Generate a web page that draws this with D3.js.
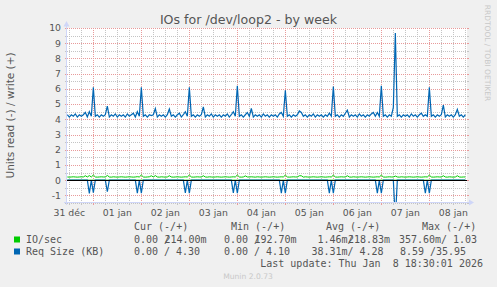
<!DOCTYPE html>
<html>
<head>
<meta charset="utf-8">
<script src="https://cdn.jsdelivr.net/npm/d3@7"></script>
<style>
  body { margin: 0; background: #f0f0f0; }
  svg { display: block; }
  text { font-family: "DejaVu Sans", sans-serif; }
  .mono { font-family: "DejaVu Sans Mono", monospace; white-space: pre; }
</style>
</head>
<body>
<div id="chart"></div>
<script>
// hourly samples, first one at 31 déc 11:00
const firstSample = Date.UTC(2025, 11, 31, 11);

// Req Size (KB), write (+)
const reqWrite = [].concat(
  [4.30,4.15,4.30,4.20,4.35,4.15,4.30,4.20,4.30,4.45,4.15,4.50,4.20],
  [6.10,4.20,4.30,4.15,4.30,4.20,4.30,4.87,4.15,4.30,4.20,4.35,4.15,4.30,4.20,4.30,4.15,4.35,4.20,4.30,4.40,4.15,4.50,4.20],
  [6.10,4.20,4.30,4.15,4.30,4.25,4.30,4.71,4.15,4.30,4.20,4.30,4.15,4.30,4.67,4.20,4.30,4.15,4.30,4.40,4.15,4.30,4.50,4.20],
  [6.10,4.20,4.30,4.15,4.30,4.20,4.30,4.82,4.15,4.30,4.20,4.35,4.15,4.30,4.20,4.30,4.15,4.30,4.20,4.35,4.15,4.30,4.50,4.20],
  [6.20,4.20,4.30,4.15,4.30,4.45,4.20,4.71,4.15,4.30,4.20,4.30,4.15,4.35,4.20,4.30,4.15,4.30,4.20,4.30,4.15,4.35,4.45,4.20],
  [5.90,4.20,4.30,4.15,4.30,4.20,4.30,4.55,4.45,4.20,4.30,4.15,4.30,4.20,4.35,4.15,4.30,4.20,4.30,4.15,4.30,4.20,4.40,4.20],
  [6.15,4.20,4.30,4.15,4.30,4.20,4.40,4.60,4.15,4.30,4.20,4.30,4.15,4.35,4.20,4.30,4.15,4.30,4.20,4.35,4.45,4.20,4.45,4.20],
  [6.20,4.20,4.30,4.15,4.30,4.20,4.78,9.67,4.20,4.30,4.15,4.30,4.20,4.30,4.15,4.35,4.20,4.30,4.15,4.30,4.40,4.20,4.30,4.20],
  [6.10,4.20,4.30,4.15,4.30,4.20,4.30,4.93,4.15,4.30,4.20,4.30,4.15,4.30,4.65,4.20,4.30,4.15,4.30]
);

// Req Size (KB), read (-)
const reqRead = [].concat(
  [0,0,0,0,0,0,0,0,0,0,0,0.87,0],
  [0.82,0,0,0,0,0,0,0.76,0,0,0,0,0,0,0,0,0,0,0,0,0,0,0.85,0],
  [0.85,0,0,0,0,0,0,0,0,0,0,0,0,0,0,0,0,0,0,0,0,0,0.83,0],
  [0.85,0,0,0,0,0,0,0,0,0,0,0,0,0,0,0,0,0,0,0,0,0,0.84,0],
  [0.86,0,0,0,0,0,0,0,0,0,0,0,0,0,0,0,0,0,0,0,0,0,0.86,0],
  [0.86,0,0,0,0,0,0,0,0,0,0,0,0,0,0,0,0,0,0,0,0,0,0.85,0],
  [0.86,0,0,0,0,0,0,0,0,0,0,0,0,0,0,0,0,0,0,0,0,0,0.85,0],
  [0.86,0,0,0,0,0,0,2.60,0,0,0,0,0,0,0,0,0,0,0,0,0,0,0.86,0],
  [0.86,0,0,0,0,0,0,0,0,0,0,0,0,0,0,0,0,0,0]
);

// IO/sec, write (+)
const ioWrite = [].concat(
  [0.21,0.20,0.21,0.22,0.21,0.20,0.21,0.22,0.21,0.29,0.21,0.30,0.21],
  [0.34,0.21,0.20,0.21,0.22,0.21,0.21,0.31,0.21,0.20,0.22,0.21,0.20,0.21,0.22,0.21,0.20,0.21,0.22,0.21,0.20,0.21,0.23,0.21],
  [0.34,0.21,0.20,0.21,0.22,0.29,0.21,0.30,0.21,0.20,0.22,0.21,0.20,0.21,0.29,0.21,0.20,0.21,0.22,0.21,0.20,0.21,0.22,0.21],
  [0.34,0.21,0.20,0.21,0.22,0.21,0.21,0.29,0.21,0.20,0.22,0.21,0.20,0.21,0.22,0.21,0.20,0.21,0.22,0.21,0.20,0.21,0.22,0.21],
  [0.34,0.21,0.20,0.21,0.28,0.21,0.21,0.22,0.21,0.20,0.22,0.21,0.20,0.21,0.22,0.21,0.20,0.21,0.22,0.21,0.20,0.21,0.22,0.21],
  [0.33,0.21,0.20,0.21,0.22,0.21,0.21,0.29,0.29,0.20,0.22,0.21,0.20,0.21,0.22,0.21,0.20,0.21,0.22,0.21,0.20,0.21,0.22,0.21],
  [0.33,0.21,0.20,0.21,0.22,0.21,0.21,0.29,0.21,0.20,0.22,0.21,0.20,0.21,0.22,0.21,0.20,0.21,0.22,0.21,0.20,0.21,0.22,0.21],
  [0.33,0.21,0.20,0.21,0.22,0.21,0.21,0.27,0.21,0.20,0.22,0.21,0.20,0.21,0.22,0.21,0.20,0.21,0.22,0.21,0.20,0.21,0.22,0.21],
  [0.33,0.21,0.20,0.21,0.22,0.21,0.21,0.29,0.21,0.20,0.22,0.21,0.20,0.21,0.29,0.21,0.20,0.21,0.21]
);

// IO/sec, read (-)
const ioRead = [].concat(
  [0,0,0,0,0,0,0,0,0,0,0,0,0],
  [0,0,0,0,0,0,0,0,0,0,0,0,0,0,0,0,0,0,0,0,0,0,0,0],
  [0,0,0,0,0,0,0,0,0,0,0,0,0,0,0,0,0,0,0,0,0,0,0,0],
  [0,0,0,0,0,0,0,0,0,0,0,0,0,0,0,0,0,0,0,0,0,0,0,0],
  [0,0,0,0,0,0,0,0,0,0,0,0,0,0,0,0,0,0,0,0,0,0,0,0],
  [0,0,0,0,0,0,0,0,0,0,0,0,0,0,0,0,0,0,0,0,0,0,0,0],
  [0,0,0,0,0,0,0,0,0,0,0,0,0,0,0,0,0,0,0,0,0,0,0,0],
  [0,0,0,0,0,0,0,0,0,0,0,0,0,0,0,0,0,0,0,0,0,0,0,0],
  [0,0,0,0,0,0,0,0,0,0,0,0,0,0,0,0,0,0,0]
);

const dayLabels = ["31 déc","01 jan","02 jan","03 jan","04 jan","05 jan","06 jan","07 jan","08 jan"];
const yTicks = [-1,0,1,2,3,4,5,6,7,8,9,10];

const seriesNames = ["IO/sec", "Req Size (KB)"];
const seriesColors = ["#00cc00", "#0066b3"];
const colHeaders = ["Cur (-/+)", "Min (-/+)", "Avg (-/+)", "Max (-/+)"];
const curVals = [["0.00", "214.00m"], ["0.00", "4.30"]];
const minVals = [["0.00", "192.70m"], ["0.00", "4.10"]];
const avgVals = [["1.46m", "218.83m"], ["38.31m", "4.28"]];
const maxVals = [["357.60m", "1.03"], ["8.59", "35.95"]];

const W = 497, H = 287;
const pLeft = 67, pRight = 467, pTop = 28, pBottom = 203;

const svg = d3.select("#chart").append("svg")
  .attr("width", W).attr("height", H);

svg.append("rect").attr("width", W).attr("height", H).attr("fill", "#f0f0f0");
svg.append("rect").attr("x", pLeft).attr("y", pTop)
  .attr("width", pRight - pLeft).attr("height", pBottom - pTop).attr("fill", "#fff");

const x = d3.scaleUtc()
  .domain([Date.UTC(2025, 11, 31, 10, 50), Date.UTC(2026, 0, 8, 18, 50)])
  .range([pLeft, pRight]);
const y = d3.scaleLinear().domain([-1.5, 10]).range([pBottom, pTop]);

const times = reqWrite.map((d, i) => new Date(firstSample + i * 3600e3));
const px = v => Math.round(v) + 0.5;

// grid
const grid = svg.append("g");
const minorColor = "#c4c4c4", majorColor = "#e89a9a";
d3.range(-1.5, 10, 1).forEach(v => {
  const yy = px(y(v));
  grid.append("line").attr("x1", pLeft).attr("x2", pRight).attr("y1", yy).attr("y2", yy)
    .attr("stroke", minorColor).attr("stroke-dasharray", "1,1");
  grid.append("line").attr("x1", pLeft - 2).attr("x2", pLeft).attr("y1", yy).attr("y2", yy).attr("stroke", minorColor);
  grid.append("line").attr("x1", pRight).attr("x2", pRight + 2).attr("y1", yy).attr("y2", yy).attr("stroke", minorColor);
});
x.ticks(d3.utcHour.every(6)).forEach(t => {
  if (t.getUTCHours() === 0) return;
  const xx = px(x(t));
  grid.append("line").attr("x1", xx).attr("x2", xx).attr("y1", pTop).attr("y2", pBottom)
    .attr("stroke", minorColor).attr("stroke-dasharray", "1,1");
  grid.append("line").attr("x1", xx).attr("x2", xx).attr("y1", pBottom).attr("y2", pBottom + 2).attr("stroke", minorColor);
});
yTicks.forEach(v => {
  const yy = px(y(v));
  grid.append("line").attr("x1", pLeft).attr("x2", pRight).attr("y1", yy).attr("y2", yy)
    .attr("stroke", majorColor).attr("stroke-dasharray", "1,1");
  grid.append("line").attr("x1", pLeft - 2).attr("x2", pLeft).attr("y1", yy).attr("y2", yy).attr("stroke", majorColor);
  grid.append("line").attr("x1", pRight).attr("x2", pRight + 2).attr("y1", yy).attr("y2", yy).attr("stroke", majorColor);
});
x.ticks(d3.utcDay.every(1)).forEach(t => {
  const xx = px(x(t));
  grid.append("line").attr("x1", xx).attr("x2", xx).attr("y1", pTop).attr("y2", pBottom)
    .attr("stroke", majorColor).attr("stroke-dasharray", "1,1");
  grid.append("line").attr("x1", xx).attr("x2", xx).attr("y1", pBottom).attr("y2", pBottom + 2).attr("stroke", majorColor);
});

// series
svg.append("clipPath").attr("id", "plot").append("rect")
  .attr("x", pLeft).attr("y", pTop).attr("width", pRight - pLeft).attr("height", pBottom - pTop);
const plot = svg.append("g").attr("clip-path", "url(#plot)");

function drawLine(values, sign, color, w) {
  plot.append("path")
    .datum(values)
    .attr("fill", "none")
    .attr("stroke", color)
    .attr("stroke-width", w)
    .attr("d", d3.line()
      .x((d, i) => x(times[i]))
      .y(d => y(sign * d)));
}
drawLine(ioRead, -1, seriesColors[0], 1);
drawLine(ioWrite, 1, seriesColors[0], 1);
drawLine(reqRead, -1, seriesColors[1], 1.2);
drawLine(reqWrite, 1, seriesColors[1], 1.2);

plot.append("line").attr("x1", pLeft).attr("x2", pRight)
  .attr("y1", px(y(0))).attr("y2", px(y(0))).attr("stroke", "#000");

// axes
const axisColor = "#cfd6f8";
svg.append("line").attr("x1", pLeft - 0.5).attr("x2", pLeft - 0.5).attr("y1", pBottom + 2).attr("y2", 24)
  .attr("stroke", axisColor);
svg.append("path").attr("d", `M${pLeft - 3.5},26.5 L${pLeft - 0.5},21 L${pLeft + 2.5},26.5 Z`).attr("fill", axisColor);
svg.append("line").attr("x1", pLeft - 3).attr("x2", pRight + 4).attr("y1", pBottom - 0.5).attr("y2", pBottom - 0.5)
  .attr("stroke", axisColor);
svg.append("path").attr("d", `M${pRight + 2},${pBottom - 3.5} L${pRight + 7},${pBottom - 0.5} L${pRight + 2},${pBottom + 2.5} Z`)
  .attr("fill", axisColor);

// tick labels
const textColor = "#555";
svg.append("g").selectAll("text").data(yTicks).join("text")
  .attr("x", 61).attr("y", d => y(d) + 3.4)
  .attr("text-anchor", "end").attr("font-size", 9.3).attr("fill", textColor)
  .text(d => d);
svg.append("g").selectAll("text").data(dayLabels).join("text")
  .attr("x", (d, i) => x(new Date(Date.UTC(2025, 11, 31 + i, 12))))
  .attr("y", 215.5)
  .attr("text-anchor", "middle").attr("font-size", 9.3).attr("fill", textColor)
  .text(d => d);

// title & side texts
svg.append("text").attr("x", 248.5).attr("y", 23.5).attr("text-anchor", "middle")
  .attr("font-size", 12.6).attr("fill", "#555").text("IOs for /dev/loop2 - by week");
svg.append("text").attr("transform", "translate(14,115.5) rotate(-90)").attr("text-anchor", "middle")
  .attr("font-size", 10.5).attr("fill", textColor).text("Units read (-) / write (+)");
svg.append("text").attr("transform", "translate(485,53) rotate(90)").attr("text-anchor", "middle")
  .attr("font-size", 7.5).attr("fill", "#c8c8c8").text("RRDTOOL / TOBI OETIKER");
svg.append("text").attr("x", 248).attr("y", 278.5).attr("text-anchor", "middle")
  .attr("font-size", 7.6).attr("fill", "#c8c8c8").text("Munin 2.0.73");

// legend: "read/write" cells; the slash sits in the first cell of the write value
const legend = svg.append("g").attr("font-size", 10).attr("fill", textColor);
const headerX = [134, 231, 326, 422];
colHeaders.forEach((h, i) => {
  legend.append("text").attr("class", "mono").attr("x", headerX[i]).attr("y", 230).text(h);
});
const rowY = [242.5, 254.5];
const cellX = [[122, 212, 305.5, 399], [122, 212, 305.5, 388]];
const pad = s => (/[a-z]$/.test(s) ? s : s + " ").padStart(7, " ");
[curVals, minVals, avgVals, maxVals].forEach((col, c) => {
  col.forEach((pair, r) => {
    const cx = cellX[r][c], slash = cx + 42;
    const readStr = pad(pair[0]).trimEnd();
    const writeStr = pad(pair[1]).trimEnd();
    legend.append("text").attr("class", "mono").attr("x", cx).attr("y", rowY[r]).text(readStr);
    if (writeStr[0] === " ") {
      legend.append("text").attr("class", "mono").attr("x", slash).attr("y", rowY[r]).text("/" + writeStr.slice(1));
    } else {
      // write value fills the slash cell: glyphs overprint as in the source
      legend.append("text").attr("class", "mono").attr("x", slash).attr("y", rowY[r]).text("/");
      legend.append("text").attr("class", "mono").attr("x", slash + 0.5).attr("y", rowY[r]).text(writeStr);
    }
  });
});
seriesNames.forEach((n, r) => {
  legend.append("rect").attr("x", 14).attr("y", rowY[r] - 6).attr("width", 6).attr("height", 6)
    .attr("fill", seriesColors[r]);
  legend.append("text").attr("class", "mono").attr("x", 26).attr("y", rowY[r]).text(n);
});
legend.append("text").attr("class", "mono").attr("x", 483).attr("y", 266.5)
  .attr("text-anchor", "end").text("Last update: Thu Jan  8 18:30:01 2026");
</script>
</body>
</html>
